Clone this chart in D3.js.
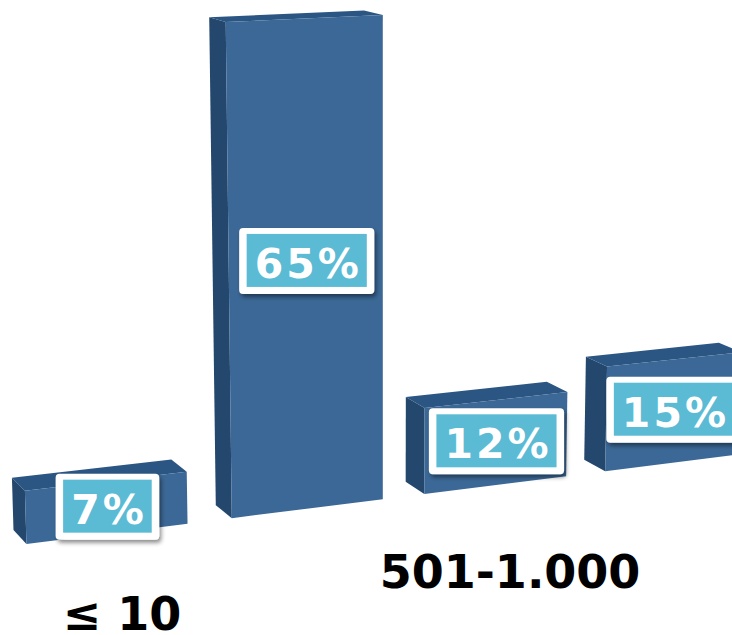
<!DOCTYPE html>
<html>
<head>
<meta charset="utf-8">
<script src="https://cdn.jsdelivr.net/npm/d3@7"></script>
<style>
  html, body { margin: 0; padding: 0; background: #ffffff; overflow: hidden; }
  svg { display: block; }
</style>
</head>
<body>
<svg id="chart" width="732" height="635"></svg>
<script>
// Share of companies by size class (percent)
const categories = ["≤ 10", "", "501-1.000", ""];
const values = [7, 65, 12, 15];

const W = 732, H = 635;
const svg = d3.select("#chart");

// World-space scales: x along the row of bars, y up, z into the page
const x = d3.scaleBand()
  .domain(d3.range(values.length))
  .range([-195, 537.4])
  .paddingInner(0.221)
  .paddingOuter(0);
const y = d3.scaleLinear().domain([0, 65]).range([0, 496]);
const DEPTH = 16;

// Three-point perspective: vanishing points for x, y and z plus the image of the origin
const VX = [6400, -256], VY = [383, 12918], VZ = [-720, -256], ORIGIN = [233, 518];
const LX = 0.02493 / 150, LY = -0.03846 / 496, LZ = 0.01708 / 16;

function project(px, py, pz) {
  const t = LX * px, s = LY * py, r = LZ * pz;
  const w = 1 + t + s + r;
  return [
    (t * VX[0] + s * VY[0] + r * VZ[0] + ORIGIN[0]) / w,
    (t * VX[1] + s * VY[1] + r * VZ[1] + ORIGIN[1]) / w
  ];
}
const poly = pts => "M" + pts.map(p => project(...p).join(",")).join("L") + "Z";

const colors = { front: "#3b6896", side: "#23476d", top: "#2b5683" };

// Drop shadow for the value badges
const defs = svg.append("defs");
defs.append("filter").attr("id", "badgeShadow")
  .attr("x", "-20%").attr("y", "-20%").attr("width", "150%").attr("height", "160%")
  .append("feDropShadow")
  .attr("dx", 2).attr("dy", 3).attr("stdDeviation", 2.2)
  .attr("flood-color", "#000").attr("flood-opacity", 0.45);

const data = values.map((v, i) => ({ i, v, label: categories[i] }));

const bars = svg.append("g").attr("class", "bars")
  .selectAll("g").data(data).join("g");

bars.each(function (d) {
  const g = d3.select(this);
  const x0 = x(d.i), x1 = x(d.i) + x.bandwidth(), h = y(d.v);
  g.append("path").attr("fill", colors.side)
    .attr("d", poly([[x0, 0, 0], [x0, h, 0], [x0, h, DEPTH], [x0, 0, DEPTH]]));
  g.append("path").attr("fill", colors.top)
    .attr("d", poly([[x0, h, 0], [x1, h, 0], [x1, h, DEPTH], [x0, h, DEPTH]]));
  g.append("path").attr("fill", colors.front)
    .attr("d", poly([[x0, 0, 0], [x1, 0, 0], [x1, h, 0], [x0, h, 0]]));
});

// Value badges: white frame, teal fill, white bold text
const badges = svg.append("g").attr("class", "badges")
  .selectAll("g").data(data).join("g")
  .attr("transform", d => {
    const c = project(x(d.i) + x.bandwidth() / 2, y(d.v * 0.515), 0);
    return `translate(${c[0]},${c[1]})`;
  });

const outer = badges.append("rect").attr("fill", "#ffffff").attr("rx", 4)
  .attr("filter", "url(#badgeShadow)");
const inner = badges.append("rect").attr("fill", "#5bbad4");
const txt = badges.append("text")
  .attr("text-anchor", "middle")
  .attr("x", 1.5)
  .attr("y", 17)
  .attr("fill", "#ffffff")
  .style("font-family", "'DejaVu Sans', Verdana, sans-serif")
  .style("font-weight", "bold")
  .style("font-size", "41px")
  .style("letter-spacing", "3px")
  .text(d => `${d.v}%`);

txt.each(function (d) { d.tw = this.getComputedTextLength() - 3; });
inner.attr("x", d => -(d.tw + 16) / 2).attr("y", -27)
  .attr("width", d => d.tw + 16).attr("height", 53);
outer.attr("x", d => -(d.tw + 31) / 2).attr("y", -33)
  .attr("width", d => d.tw + 31).attr("height", 66);

// Category labels on a baseline a little flatter than the bars' ground line
svg.append("g").attr("class", "categories")
  .selectAll("text").data(data.filter(d => d.label)).join("text")
  .attr("transform", d => {
    const c = project(x(d.i) + x.bandwidth() / 2, 0, 0);
    return `translate(${c[0] + 14},${0.86 * c[1] + 171})`;
  })
  .attr("text-anchor", "middle")
  .attr("fill", "#000000")
  .style("font-family", "'DejaVu Sans', Verdana, sans-serif")
  .style("font-weight", "bold")
  .style("font-size", "46px")
  .text(d => d.label);
</script>
</body>
</html>
